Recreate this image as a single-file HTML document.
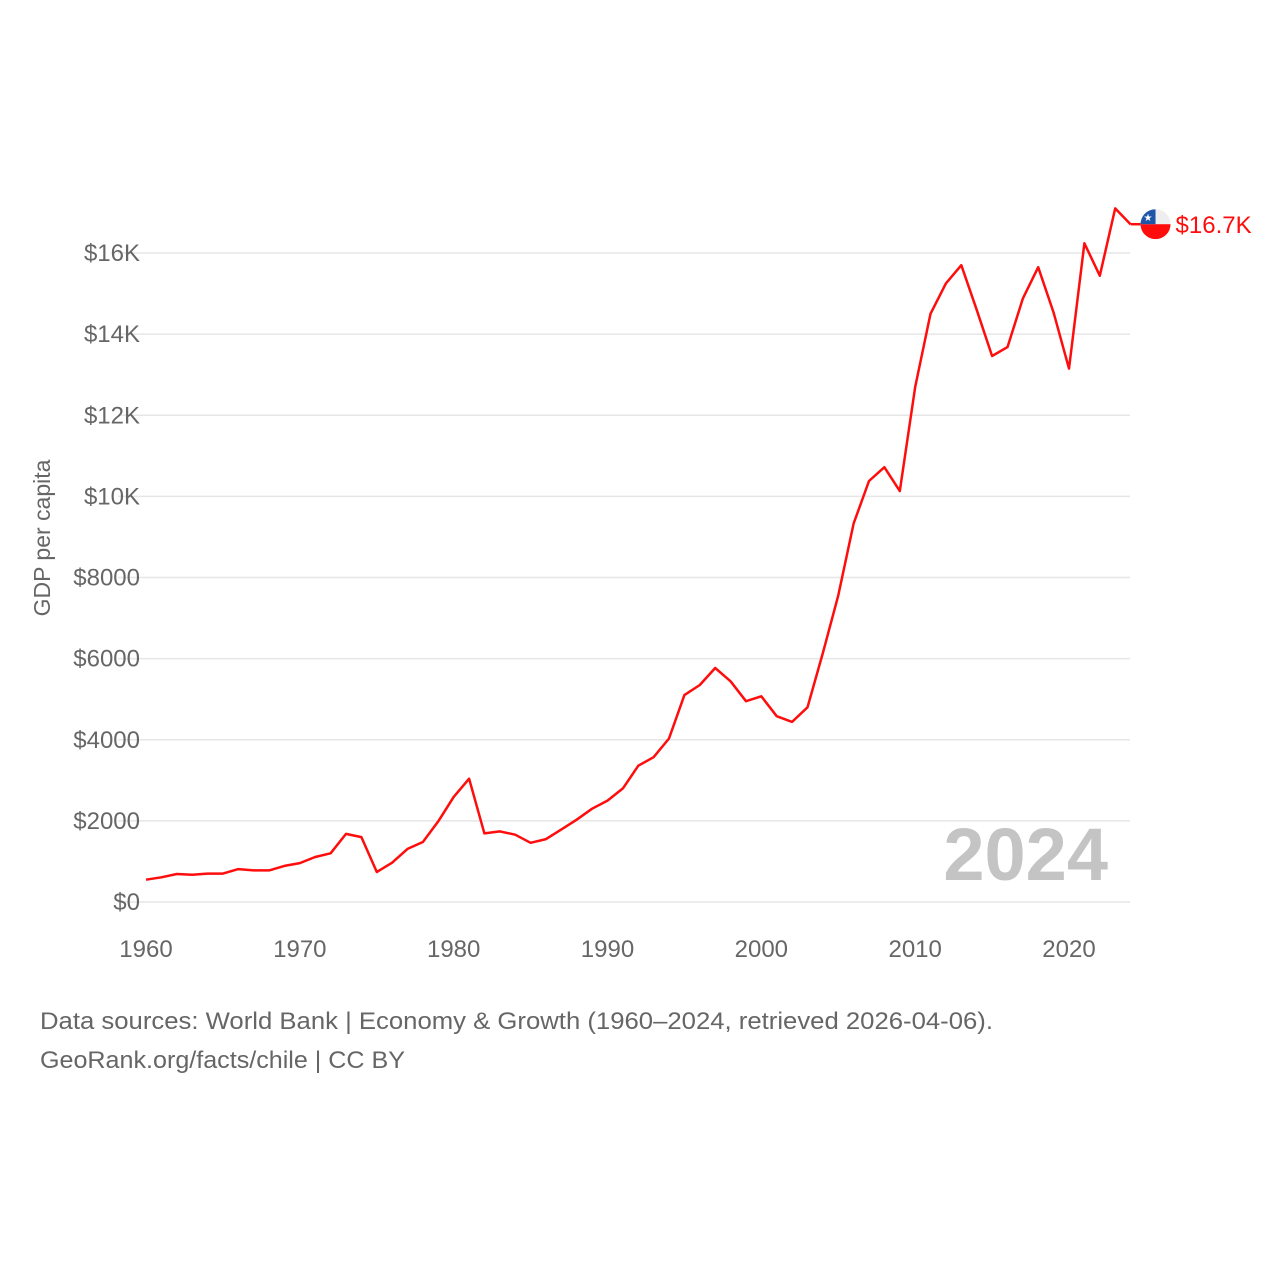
<!DOCTYPE html>
<html><head><meta charset="utf-8"><style>
html,body{margin:0;padding:0;background:#fff;}
svg text{font-family:"Liberation Sans",sans-serif;}
</style></head><body>
<svg width="1280" height="1280" viewBox="0 0 1280 1280">
<g id="grid"></g>
<g id="yt"></g>
<g id="xt"></g>
<text transform="translate(50,538) rotate(-90)" text-anchor="middle" font-size="23" fill="#666">GDP per capita</text>
<text x="1108" y="880" text-anchor="end" font-size="74" font-weight="bold" fill="#c4c4c4">2024</text>
<path id="line" fill="none" stroke="#ff0d0d" stroke-width="2.5" stroke-linejoin="round"/>
<g id="endlabel"></g>
<text x="40" y="1029" font-size="24" fill="#666" textLength="953" lengthAdjust="spacingAndGlyphs">Data sources: World Bank | Economy &amp; Growth (1960–2024, retrieved 2026-04-06).</text>
<text x="40" y="1068" font-size="24" fill="#666" textLength="365" lengthAdjust="spacingAndGlyphs">GeoRank.org/facts/chile | CC BY</text>
</svg>
<script>
const years=[];for(let y=1960;y<=2024;y++)years.push(y);
const gdp=[550,610,690,670,700,700,810,780,780,890,960,1110,1200,1680,1600,740,970,1310,1480,1990,2590,3040,1690,1740,1660,1460,1550,1790,2030,2300,2500,2800,3360,3570,4030,5100,5350,5770,5440,4950,5070,4580,4440,4800,6140,7560,9330,10380,10720,10130,12700,14500,15250,15700,14600,13460,13680,14880,15650,14530,13150,16240,15440,17100,16710];
const yTicks=[0,2000,4000,6000,8000,10000,12000,14000,16000];
const yTickLabels=["$0","$2000","$4000","$6000","$8000","$10K","$12K","$14K","$16K"];
const xTicks=[1960,1970,1980,1990,2000,2010,2020];
const endLabel="$16.7K";
const NS="http://www.w3.org/2000/svg";
const X=y=>146+(y-1960)*(1069-146)/60;
const Y=v=>902-v*(902-253)/16000;
function mk(t,a,p){const e=document.createElementNS(NS,t);for(const k in a)e.setAttribute(k,a[k]);p.appendChild(e);return e;}
const grid=document.getElementById('grid'),yt=document.getElementById('yt'),xt=document.getElementById('xt');
yTicks.forEach((v,i)=>{
 const l=mk('line',{x1:118,x2:1130,y1:Y(v),y2:Y(v),stroke:'#e6e6e6','stroke-width':1.5},grid);
 
 
 const t=mk('text',{x:140,y:Y(v)+8,'text-anchor':'end','font-size':24,fill:'#666'},yt);
 t.textContent=yTickLabels[i];
 
 
});
xTicks.forEach(y=>{
 const t=mk('text',{x:X(y),y:957,'text-anchor':'middle','font-size':24,fill:'#666'},xt);
 t.textContent=y;
 
 
});
document.getElementById('line').setAttribute('d',gdp.map((v,i)=>(i?'L':'M')+X(years[i]).toFixed(1)+' '+Y(v).toFixed(1)).join(''));
const el=document.getElementById('endlabel');
const lx=X(years[years.length-1]),ly=Y(gdp[gdp.length-1]);
mk('line',{x1:lx,x2:lx+10,y1:ly,y2:ly,stroke:'#ff0d0d','stroke-width':2.5},el);
const cx=lx+25,cy=ly;
const defs=mk('defs',{},el);const cp=mk('clipPath',{id:'fc'},defs);mk('circle',{cx:cx,cy:cy,r:15},cp);
const fg=mk('g',{'clip-path':'url(#fc)'},el);


mk('rect',{x:cx-15,y:cy-15,width:30,height:15,fill:'#eee'},fg);
mk('rect',{x:cx-15,y:cy,width:30,height:15,fill:'#ff0d0d'},fg);
mk('rect',{x:cx-15,y:cy-15,width:15,height:15,fill:'#1f55a8'},fg);
const st=mk('text',{x:cx-7.5,y:cy-3,'text-anchor':'middle','font-size':10,fill:'#fff'},fg);st.textContent='★';
const lt=mk('text',{x:cx+20,y:cy+9,'font-size':24,fill:'#ff0d0d'},el);
lt.textContent=endLabel;


</script>
</body></html>
